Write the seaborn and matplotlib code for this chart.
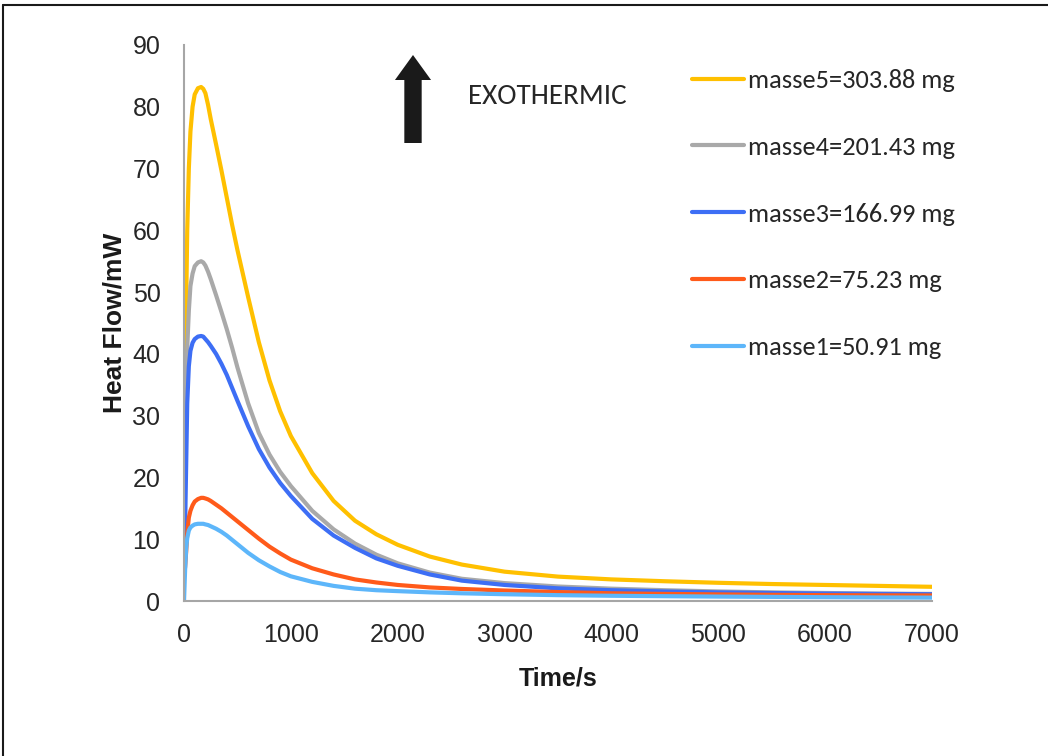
import pandas as pd
import matplotlib.pyplot as plt
import seaborn as sns
from matplotlib.lines import Line2D
from matplotlib.patches import FancyArrowPatch

# --- data (time in s, heat flow in mW) ---
time_s = [0, 10, 20, 30, 45, 60, 80, 100, 130, 160, 180, 200, 225, 250, 300, 350, 400, 450, 500,
          600, 700, 800, 900, 1000, 1200, 1400, 1600, 1800, 2000, 2300, 2600, 3000,
          3500, 4000, 4500, 5000, 5500, 6000, 6500, 7000]

masse5 = [8, 30, 48, 60, 70, 76, 80, 82, 83, 83.2, 82.9, 82.2, 80.3, 78.0, 73.9, 69.7, 65.3, 60.9, 56.8,
          49.2, 41.9, 35.7, 30.7, 26.7, 20.7, 16.2, 13.0, 10.8, 9.1, 7.2, 5.9, 4.75,
          3.95, 3.5, 3.2, 2.95, 2.75, 2.6, 2.45, 2.3]
masse4 = [6, 22, 33, 41, 47, 51, 53, 54.2, 54.8, 55, 54.8, 54.3, 53.3, 52.1, 49.5, 46.8, 44, 41, 37.8,
          32, 27.2, 23.7, 20.9, 18.6, 14.6, 11.6, 9.3, 7.5, 6.1, 4.6, 3.6, 2.9,
          2.35, 2.0, 1.75, 1.55, 1.4, 1.3, 1.2, 1.15]
masse3 = [5, 12, 22, 32, 38, 40.5, 41.8, 42.4, 42.8, 42.9, 42.8, 42.4, 41.9, 41.3, 40.0, 38.4, 36.6, 34.5, 32.4,
          28.3, 24.6, 21.6, 19.1, 17.0, 13.3, 10.6, 8.6, 6.9, 5.7, 4.3, 3.3, 2.6,
          2.05, 1.75, 1.55, 1.4, 1.3, 1.2, 1.15, 1.1]
masse2 = [4, 5.5, 8, 11, 13.5, 14.6, 15.5, 16.1, 16.5, 16.7, 16.7, 16.6, 16.45, 16.2, 15.6, 15.0, 14.3, 13.6, 12.9,
          11.5, 10.1, 8.8, 7.7, 6.7, 5.3, 4.3, 3.5, 3.0, 2.6, 2.2, 1.95, 1.7,
          1.45, 1.25, 1.15, 1.07, 1.0, 0.95, 0.92, 0.9]
masse1 = [0, 5, 8.5, 10.2, 11.4, 11.9, 12.2, 12.4, 12.5, 12.5, 12.5, 12.4, 12.3, 12.1, 11.7, 11.2, 10.6, 9.9, 9.2,
          7.8, 6.6, 5.6, 4.7, 4.0, 3.1, 2.45, 2.0, 1.75, 1.6, 1.4, 1.25, 1.1,
          0.95, 0.85, 0.78, 0.72, 0.67, 0.62, 0.58, 0.55]

labels = ["masse5=303.88 mg", "masse4=201.43 mg", "masse3=166.99 mg",
          "masse2=75.23 mg", "masse1=50.91 mg"]
colors = ["#FFC000", "#A9A9A9", "#3D6EF5", "#FF5A1A", "#5DB6FA"]

# --- build long-form table ---
rows = []
for lab, vals in zip(labels, [masse5, masse4, masse3, masse2, masse1]):
    for t, v in zip(time_s, vals):
        rows.append({"time": t, "heat": v, "sample": lab})
df = pd.DataFrame(rows)

# --- style ---
sns.set_theme(style="white")
plt.rcParams["font.family"] = ["Liberation Sans Narrow", "Liberation Sans", "DejaVu Sans"]
calibri_like = ["Carlito", "Open Sans", "DejaVu Sans"]

fig = plt.figure(figsize=(10.48, 7.56), dpi=100)
ax = fig.add_axes([0.1756, 0.2050, 0.7137, 0.7355])

sns.lineplot(data=df, x="time", y="heat", hue="sample", hue_order=labels,
             palette=dict(zip(labels, colors)), estimator=None, sort=False,
             linewidth=3, ax=ax)

ax.set_xlim(0, 7000)
ax.set_ylim(0, 90)
ax.set_xticks(range(0, 7001, 1000))
ax.set_yticks(range(0, 91, 10))

for side in ["top", "right"]:
    ax.spines[side].set_visible(False)
for side in ["left", "bottom"]:
    ax.spines[side].set_color("#A6A6A6")
    ax.spines[side].set_linewidth(1.5)
ax.tick_params(axis="both", which="major", direction="out", length=7, width=1.5,
               color="#A6A6A6", labelsize=18, labelcolor="#262626")
ax.tick_params(axis="y", pad=10)
ax.tick_params(axis="x", pad=9)

ax.set_xlabel("Time/s", fontsize=18, fontweight="bold", color="#1a1a1a", labelpad=14)
ax.set_ylabel("Heat Flow/mW", fontsize=19, fontweight="bold", color="#1a1a1a", labelpad=4)

# legend
leg = ax.legend(loc="upper left", bbox_to_anchor=(0.650, 0.9228), bbox_transform=fig.transFigure,
                frameon=False, prop={"family": calibri_like, "size": 19},
                handlelength=1.98, handletextpad=0.17, labelspacing=1.66, borderaxespad=0)
for txt in leg.get_texts():
    txt.set_color("#262626")
for h in leg.get_lines():
    h.set_linewidth(3)

# exothermic arrow + label
arrow = FancyArrowPatch((413, 756 - 143), (413, 756 - 55), transform=None,
                        arrowstyle="simple,head_width=26,head_length=18,tail_width=12.5",
                        mutation_scale=1, shrinkA=0, shrinkB=0,
                        color="#1a1a1a", linewidth=0)
fig.add_artist(arrow)
fig.text(0.447, 0.8717, "EXOTHERMIC", fontsize=21, color="#262626",
         family=calibri_like, va="center", ha="left")

# outer frame lines (top and left)
fig.add_artist(Line2D([0.003, 1.0], [0.9935, 0.9935], transform=fig.transFigure,
                      color="#1a1a1a", linewidth=1.5))
fig.add_artist(Line2D([0.003, 0.003], [0.0, 0.9935], transform=fig.transFigure,
                      color="#1a1a1a", linewidth=1.5))

fig.savefig("out.png", dpi=100)
